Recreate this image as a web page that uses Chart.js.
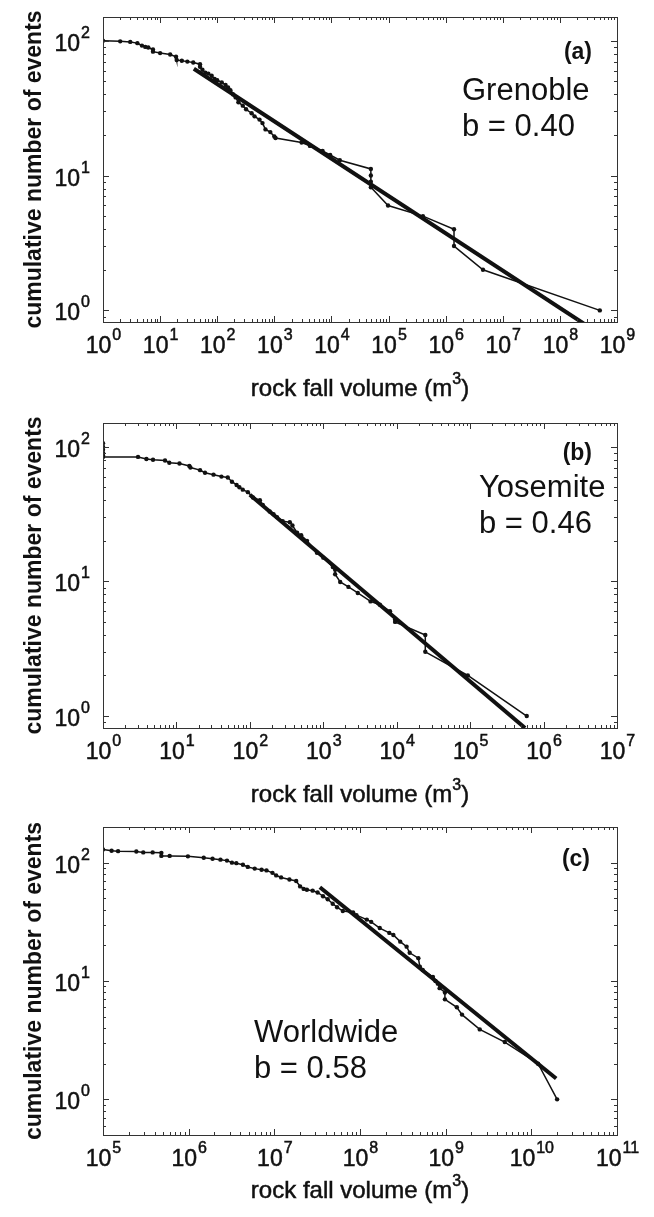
<!DOCTYPE html>
<html>
<head>
<meta charset="utf-8">
<script src="https://cdn.jsdelivr.net/npm/chart.js@4.4.1/dist/chart.umd.min.js"></script>
<style>
body { margin: 0; background: #fff; }
canvas { position: absolute; left: 0; }
</style>
</head>
<body>
<canvas id="chartA" width="654" height="420" style="top:0px"></canvas>
<canvas id="chartB" width="654" height="420" style="top:400px"></canvas>
<canvas id="chartC" width="654" height="417" style="top:800px"></canvas>
<script>
'use strict';

// (a) Grenoble
let grenobleVolume = [1, 2, 3, 4, 4.8, 5.5, 6.2, 7.5, 7.5, 10, 15, 19, 19.5, 24, 30, 38, 50, 50, 55, 62, 70, 80, 90, 100, 120, 140, 155, 170, 190, 210, 235, 280, 320, 400, 450, 550, 620, 700, 850, 1000, 1050, 3000, 4200, 7000, 9500, 14000, 49000, 49000, 49000, 49000, 98000, 4e5, 1.4e6, 1.4e6, 4.5e6, 5e8];
let grenobleCount = [100, 99, 98, 96, 92, 90, 89, 86, 83, 81, 79, 76, 72, 71, 70, 69, 67, 64, 61, 58, 57, 55, 52, 51, 49, 47, 45, 43, 40, 38, 35, 33, 31, 29, 27.5, 26, 24.5, 22, 21, 19.5, 19, 17.6, 16.6, 15.2, 14.2, 13, 11.2, 10, 9, 8.2, 6, 5, 4, 3, 2, 1];
let grenobleFitVolume = [39, 2.6e8];
let grenobleFitCount = [62, 0.8];

// (b) Yosemite
let yosemiteVolume = [1, 1, 1, 1, 1, 1, 3, 3.9, 4.8, 7, 8, 11, 15, 15.5, 21, 24.5, 32, 41, 50, 57, 66, 72, 80, 94, 110, 137, 150, 186, 210, 234, 280, 350, 380, 440, 500, 600, 820, 1000, 1350, 1450, 1450, 1700, 2200, 2950, 4400, 5900, 8100, 9500, 9500, 24500, 24500, 93000, 5.9e5];
let yosemiteCount = [106, 100, 95, 90, 86, 84, 84, 81, 80, 79, 76, 75, 72, 70, 67, 64, 62, 60, 59, 55, 52, 50, 48, 46, 42, 40, 37, 33, 31.5, 30, 28, 27.5, 26, 23, 22, 20, 16.3, 15, 12.8, 12.2, 11.3, 9.9, 9.1, 8.2, 7.1, 6.7, 6, 5.2, 5, 4, 3, 2, 1];
let yosemiteFitVolume = [100, 5.6e5];
let yosemiteFitCount = [44, 0.815];

// (c) Worldwide
let worldVolume = [1e5, 1.26e5, 1.5e5, 2.45e5, 2.95e5, 3.8e5, 4.8e5, 4.8e5, 6e5, 9.8e5, 1.5e6, 1.9e6, 2.35e6, 2.8e6, 3.2e6, 3.6e6, 4.3e6, 4.9e6, 5.9e6, 7.1e6, 8.1e6, 9.5e6, 1.05e7, 1.2e7, 1.5e7, 1.8e7, 2e7, 2.2e7, 2.4e7, 2.8e7, 3.2e7, 3.7e7, 4.2e7, 4.8e7, 5.4e7, 6.3e7, 8.3e7, 9.1e7, 1.2e8, 1.35e8, 1.7e8, 2.2e8, 2.45e8, 2.95e8, 3.5e8, 3.8e8, 4.8e8, 5e8, 5.4e8, 7.1e8, 7.6e8, 8.1e8, 8.5e8, 9.8e8, 9.8e8, 1.35e9, 1.55e9, 2.5e9, 4.9e9, 1.2e10, 2e10];
let worldCount = [129, 126, 125, 124, 122, 122, 121, 114, 114, 113, 110, 108, 106, 104, 100, 99, 96, 92, 89, 87, 86, 82, 78, 75, 72, 70, 63, 60, 59, 58, 56, 52, 49, 45, 42, 39, 38, 36, 33, 31.6, 28, 25.5, 24.5, 21.5, 19.5, 17.3, 15.6, 13.2, 12.4, 10.8, 10, 9.5, 8.7, 8, 7, 6, 5.2, 3.9, 3.05, 2, 1];
let worldFitVolume = [3.4e7, 1.95e10];
let worldFitCount = [62, 1.5];

// axis ranges and decade labels
let grenobleX = [1, 1e9], grenobleY = [0.82, 150];
let yosemiteX = [1, 1e7], yosemiteY = [0.815, 150];
let worldX = [1e5, 1e11], worldY = [0.5, 200];
let grenobleXExp = [0, 1, 2, 3, 4, 5, 6, 7, 8, 9];
let yosemiteXExp = [0, 1, 2, 3, 4, 5, 6, 7];
let worldXExp = [5, 6, 7, 8, 9, 10, 11];
let countExp = [0, 1, 2];

let INK = '#111';
let FONT = '"Liberation Sans", Arial, sans-serif';

function pairs(xs, ys){
    let out = [];
    for (let i = 0; i < xs.length; i++){
        out.push({x: xs[i], y: ys[i]});
    }
    return out;
}

// filled text with a thin outline so it reads a little heavier
function heavyText(ctx, txt, x, y){
    ctx.fillText(txt, x, y);
    ctx.strokeText(txt, x, y);
}

// "10" with a raised exponent
function powerLabel(ctx, exp, x, y, align){
    ctx.font = '23px ' + FONT;
    let w1 = ctx.measureText('10').width;
    ctx.font = '16px ' + FONT;
    let w2 = ctx.measureText(String(exp)).width;
    let left = align === 'center' ? x - (w1 + w2) / 2 : x - (w1 + w2);
    ctx.font = '23px ' + FONT;
    heavyText(ctx, '10', left, y);
    ctx.font = '16px ' + FONT;
    heavyText(ctx, String(exp), left + w1 + 1, y - 13);
}

function drawTicks(ctx, scale, horizontal, a){
    let lo = Math.floor(Math.log10(scale.min));
    let hi = Math.ceil(Math.log10(scale.max));
    for (let d = lo; d <= hi; d++){
        for (let m = 1; m <= 9; m++){
            let v = m * Math.pow(10, d);
            if (v < scale.min || v > scale.max) continue;
            let p = Math.round(scale.getPixelForValue(v)) + 0.5;
            let len = m === 1 ? 6 : 3;
            ctx.beginPath();
            if (horizontal){
                ctx.moveTo(p, a.bottom); ctx.lineTo(p, a.bottom - len);
                ctx.moveTo(p, a.top); ctx.lineTo(p, a.top + len);
            } else {
                ctx.moveTo(a.left, p); ctx.lineTo(a.left + len, p);
                ctx.moveTo(a.right, p); ctx.lineTo(a.right - len, p);
            }
            ctx.stroke();
        }
    }
}

let boxFrame = {
    id: 'boxFrame',
    afterDraw(chart, args, opts){
        let ctx = chart.ctx;
        let a = chart.chartArea;
        let xs = chart.scales.x;
        let ys = chart.scales.y;
        ctx.save();
        ctx.strokeStyle = '#333';
        ctx.lineWidth = 1;
        drawTicks(ctx, xs, true, a);
        drawTicks(ctx, ys, false, a);
        ctx.strokeRect(Math.round(a.left) + 0.5, Math.round(a.top) + 0.5, Math.round(a.width), Math.round(a.height));

        ctx.fillStyle = INK;
        ctx.strokeStyle = INK;
        ctx.lineWidth = 0.5;
        ctx.textBaseline = 'alphabetic';
        ctx.textAlign = 'left';
        opts.xExp.forEach(function(e){
            powerLabel(ctx, e, xs.getPixelForValue(Math.pow(10, e)), a.bottom + 31, 'center');
        });
        countExp.forEach(function(e){
            powerLabel(ctx, e, a.left - 14, ys.getPixelForValue(Math.pow(10, e)) + 10, 'right');
        });

        // x title with m^3
        let tx = (a.left + a.right) / 2;
        let ty = a.bottom + opts.titleGap + 8;
        ctx.font = '24px ' + FONT;
        let t1 = 'rock fall volume (m';
        let w1 = ctx.measureText(t1).width;
        let w3 = ctx.measureText(')').width;
        ctx.font = '16px ' + FONT;
        let w2 = ctx.measureText('3').width;
        let left = tx - (w1 + w2 + w3) / 2;
        ctx.font = '24px ' + FONT;
        heavyText(ctx, t1, left, ty);
        heavyText(ctx, ')', left + w1 + w2, ty);
        ctx.font = '16px ' + FONT;
        heavyText(ctx, '3', left + w1, ty - 12);

        // y title
        ctx.save();
        ctx.translate(35, (a.top + a.bottom) / 2);
        ctx.rotate(-Math.PI / 2);
        ctx.textAlign = 'center';
        ctx.textBaseline = 'middle';
        ctx.font = 'bold 23px ' + FONT;
        ctx.fillText('cumulative number of events', 0, 0);
        ctx.restore();

        // panel tag and site text
        ctx.font = 'bold 23px ' + FONT;
        ctx.textAlign = 'right';
        ctx.fillText(opts.tag, opts.tagX, opts.tagY);
        ctx.textAlign = 'left';
        ctx.font = '31px ' + FONT;
        opts.lines.forEach(function(line, i){
            ctx.fillText(line, opts.textX, opts.textY + i * 36);
        });
        ctx.restore();
    }
};

function makeChart(id, vol, count, fitVol, fitCount, xr, yr, pad, frame){
    let ctx = document.getElementById(id).getContext('2d');
    return new Chart(ctx, {
        type: 'scatter',
        data: {
            datasets: [{
                data: pairs(vol, count),
                showLine: true,
                borderColor: INK,
                borderWidth: 1.5,
                pointRadius: 2.2,
                pointBackgroundColor: INK,
                pointBorderWidth: 0
            },
            {
                data: pairs(fitVol, fitCount),
                showLine: true,
                borderColor: INK,
                borderWidth: 4,
                pointRadius: 0
            }]
        },
        options: {
            responsive: false,
            animation: false,
            layout: { padding: pad },
            plugins: {
                legend: { display: false },
                tooltip: { enabled: false },
                boxFrame: frame
            },
            scales: {
                x: {
                    type: 'logarithmic', min: xr[0], max: xr[1],
                    ticks: { display: false }, grid: { display: false }, border: { display: false },
                    afterFit: function(s){ s.height = 0; }
                },
                y: {
                    type: 'logarithmic', min: yr[0], max: yr[1],
                    ticks: { display: false }, grid: { display: false }, border: { display: false },
                    afterFit: function(s){ s.width = 0; }
                }
            }
        },
        plugins: [boxFrame]
    });
}

makeChart('chartA', grenobleVolume, grenobleCount, grenobleFitVolume, grenobleFitCount, grenobleX, grenobleY,
    {left: 103, right: 37, top: 17, bottom: 98},
    {xExp: grenobleXExp, titleGap: 66, tag: '(a)', tagX: 592, tagY: 59, lines: ['Grenoble', 'b = 0.40'], textX: 462, textY: 100});

makeChart('chartB', yosemiteVolume, yosemiteCount, yosemiteFitVolume, yosemiteFitCount, yosemiteX, yosemiteY,
    {left: 103, right: 37, top: 23, bottom: 92},
    {xExp: yosemiteXExp, titleGap: 66, tag: '(b)', tagX: 592, tagY: 60, lines: ['Yosemite', 'b = 0.46'], textX: 479, textY: 97});

makeChart('chartC', worldVolume, worldCount, worldFitVolume, worldFitCount, worldX, worldY,
    {left: 103, right: 37, top: 27, bottom: 82},
    {xExp: worldXExp, titleGap: 55, tag: '(c)', tagX: 590, tagY: 66, lines: ['Worldwide', 'b = 0.58'], textX: 254, textY: 242});
</script>
</body>
</html>
